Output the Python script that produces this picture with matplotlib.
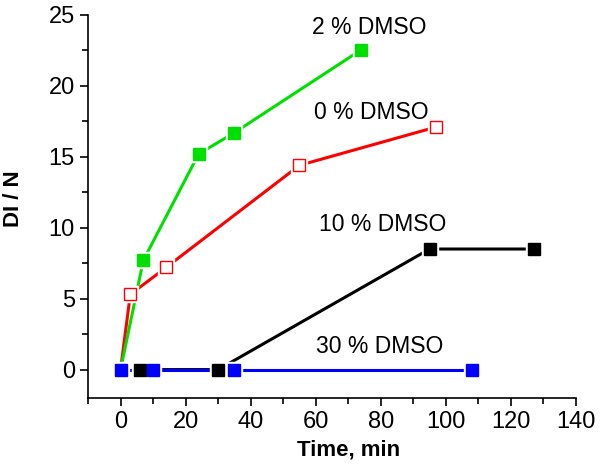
import matplotlib
matplotlib.use("Agg")
from matplotlib import pyplot as plt
from matplotlib.ticker import MultipleLocator

plt.rcParams['font.family'] = ['Liberation Sans', 'DejaVu Sans']

# 0 % DMSO
t_0 = [0, 3, 14, 55, 97]
di_0 = [0, 5.3, 7.2, 14.4, 17.1]
# 2 % DMSO
t_2 = [0, 7, 24, 35, 74]
di_2 = [0, 7.7, 15.2, 16.7, 22.55]
# 10 % DMSO
t_10 = [6, 30, 95, 127]
di_10 = [0, 0, 8.5, 8.5]
# 30 % DMSO
t_30 = [0, 10, 35, 108]
di_30 = [0, 0, 0, 0]

labels = ["2 % DMSO", "0 % DMSO", "10 % DMSO", "30 % DMSO"]
label_pos = [(58.8, 24.1), (59.4, 18.1), (61, 10.2), (60.2, 1.65)]

fig = plt.figure(figsize=(6, 4.67), dpi=100)
ax = fig.add_axes([0.1467, 0.1478, 0.8133, 0.8202])

lw = 2.2
ms = 8.5
# lines first, then white halos (Origin-style gaps), then markers
ax.plot(t_0, di_0, color="#ff0000", lw=lw, zorder=2)
ax.plot(t_2, di_2, color="#00e000", lw=lw, zorder=2)
ax.plot(t_10, di_10, color="black", lw=lw, zorder=2)
ax.plot(t_30, di_30, color="#0000ff", lw=lw, zorder=2)

for t, d in [(t_0[1:], di_0[1:]), (t_2[1:], di_2[1:]), (t_10, di_10), (t_30, di_30)]:
    ax.plot(t, d, ls="none", marker="s", ms=ms + 3, color="white", zorder=3)

ax.plot(t_0[1:], di_0[1:], ls="none", marker="s", ms=8, mfc="white",
        mec="#ff0000", mew=1.0, zorder=4)
ax.plot(t_2[1:], di_2[1:], ls="none", marker="s", ms=ms, color="#00e000", zorder=4)
ax.plot(t_10, di_10, ls="none", marker="s", ms=ms, color="black", zorder=4)
ax.plot(t_30, di_30, ls="none", marker="s", ms=ms, color="#0000ff", zorder=5)

for text, (x, y) in zip(labels, label_pos):
    ax.text(x, y, text, fontsize=16.5, ha="left", va="center")

ax.set_xlim(-10, 140)
ax.set_ylim(-2, 25)
ax.xaxis.set_major_locator(MultipleLocator(20))
ax.xaxis.set_minor_locator(MultipleLocator(10))
ax.yaxis.set_major_locator(MultipleLocator(5))
ax.yaxis.set_minor_locator(MultipleLocator(2.5))
ax.spines["top"].set_visible(False)
ax.spines["right"].set_visible(False)
ax.spines["left"].set_linewidth(1.2)
ax.spines["bottom"].set_linewidth(1.2)
ax.tick_params(which="major", direction="out", length=6, width=1.2, labelsize=17)
ax.tick_params(which="minor", direction="out", length=4, width=1.2)

ax.set_xlabel("Time, min", fontsize=16, fontweight="bold")
ax.set_ylabel("DI / N", fontsize=16, fontweight="bold")
ax.xaxis.set_label_coords(0.533, -0.136)
ax.yaxis.set_label_coords(-0.152, 0.521)
ax.xaxis.label.set_va("center")
ax.yaxis.label.set_va("center")

fig.savefig("out.png", dpi=100)
